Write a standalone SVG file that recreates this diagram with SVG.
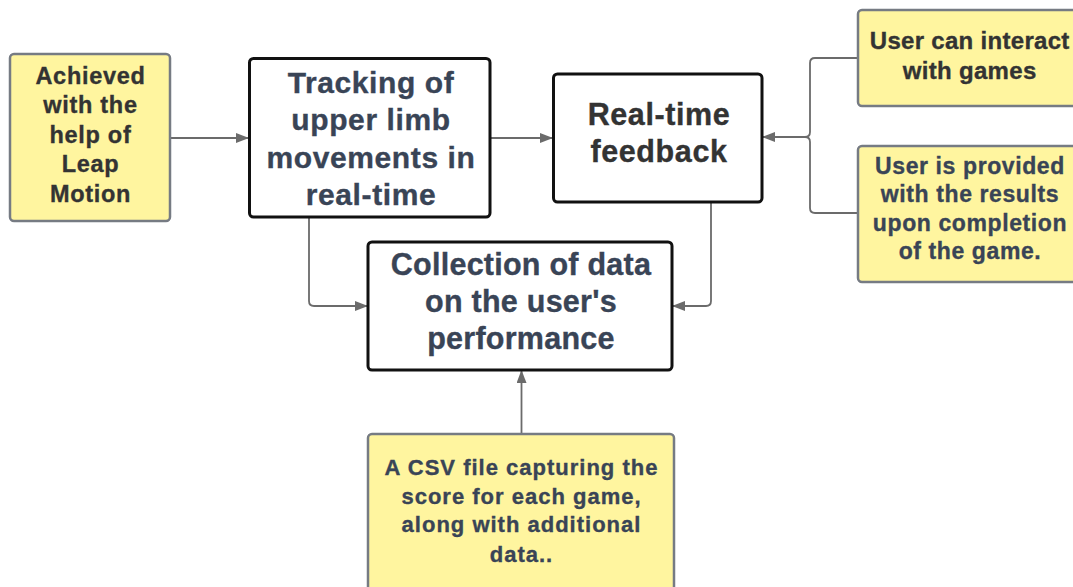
<svg xmlns="http://www.w3.org/2000/svg" width="1073" height="587" viewBox="0 0 1073 587">
  <style>
    .note { fill: #fff59f; stroke: #767b83; stroke-width: 2.5; }
    .main { fill: #ffffff; stroke: #111111; stroke-width: 3; }
    .link { fill: none; stroke: #6b6b6b; stroke-width: 1.8; }
    text { font-family: "Liberation Sans", Arial, sans-serif; font-weight: bold; text-anchor: middle; stroke-width: 0.35; }
    .gray { fill: #333333; stroke: #333333; }
    .slate { fill: #394456; stroke: #394456; }
  </style>
  <defs>
    <marker id="arrow" viewBox="0 0 13 10" refX="13" refY="5" markerWidth="13" markerHeight="10" markerUnits="userSpaceOnUse" orient="auto">
      <path d="M0,0 L13,5 L0,10 Z" fill="#6b6b6b"/>
    </marker>
  </defs>

  <g id="connectors">
    <path class="link" d="M170,138 H249" marker-end="url(#arrow)"/>
    <path class="link" d="M490,138 H553" marker-end="url(#arrow)"/>
    <path class="link" d="M858,58 H815 Q810,58 810,63 V132 Q810,137 805,137 H762" marker-end="url(#arrow)"/>
    <path class="link" d="M858,213 H815 Q810,213 810,208 V142 Q810,137 805,137"/>
    <path class="link" d="M309,217 V301 Q309,306 314,306 H368" marker-end="url(#arrow)"/>
    <path class="link" d="M711,202 V301 Q711,306 706,306 H672" marker-end="url(#arrow)"/>
    <path class="link" d="M521.5,434 V370" marker-end="url(#arrow)"/>
  </g>

  <!-- tspans are kept adjacent so no collapsed space shifts the centred lines -->
  <g id="leap-motion">
    <rect class="note" x="10" y="54" width="160" height="167" rx="4"/>
    <text class="gray" font-size="23.5" letter-spacing="0.7"><tspan x="90.5" y="83.5">Achieved</tspan><tspan x="90.5" y="113">with the</tspan><tspan x="90.5" y="142.5">help of</tspan><tspan x="90.5" y="172">Leap</tspan><tspan x="90.5" y="201.5">Motion</tspan></text>
  </g>

  <g id="tracking">
    <rect class="main" x="249.5" y="58.5" width="240.5" height="158.5" rx="4"/>
    <text class="slate" font-size="30" letter-spacing="0.6"><tspan x="371" y="92.5">Tracking of</tspan><tspan x="371" y="130">upper limb</tspan><tspan x="371" y="167.5">movements in</tspan><tspan x="371" y="205">real-time</tspan></text>
  </g>

  <g id="feedback">
    <rect class="main" x="553.5" y="74" width="208.5" height="128" rx="4"/>
    <text class="gray" font-size="30.5" letter-spacing="0.6"><tspan x="659" y="125">Real-time</tspan><tspan x="659" y="162">feedback</tspan></text>
  </g>

  <g id="interact">
    <rect class="note" x="858" y="10" width="220" height="96" rx="4"/>
    <text class="gray" font-size="24" letter-spacing="0.3"><tspan x="969.7" y="48.5">User can interact</tspan><tspan x="969.7" y="78.5">with games</tspan></text>
  </g>

  <g id="results">
    <rect class="note" x="858" y="146" width="220" height="136" rx="4"/>
    <text class="slate" font-size="23" letter-spacing="0.6"><tspan x="970" y="173.5">User is provided</tspan><tspan x="970" y="202">with the results</tspan><tspan x="970" y="230.5">upon completion</tspan><tspan x="970" y="259">of the game.</tspan></text>
  </g>

  <g id="collection">
    <rect class="main" x="368" y="242" width="304" height="128" rx="4"/>
    <text class="slate" font-size="30.5" letter-spacing="0.25"><tspan x="521" y="274.5">Collection of data</tspan><tspan x="521" y="312">on the user's</tspan><tspan x="521" y="349">performance</tspan></text>
  </g>

  <g id="csv">
    <rect class="note" x="368" y="434" width="306" height="170" rx="4"/>
    <text class="slate" font-size="22" letter-spacing="1"><tspan x="521.5" y="475">A CSV file capturing the</tspan><tspan x="521.5" y="503.5">score for each game,</tspan><tspan x="521.5" y="532">along with additional</tspan><tspan x="521.5" y="561.5">data..</tspan></text>
  </g>
</svg>
